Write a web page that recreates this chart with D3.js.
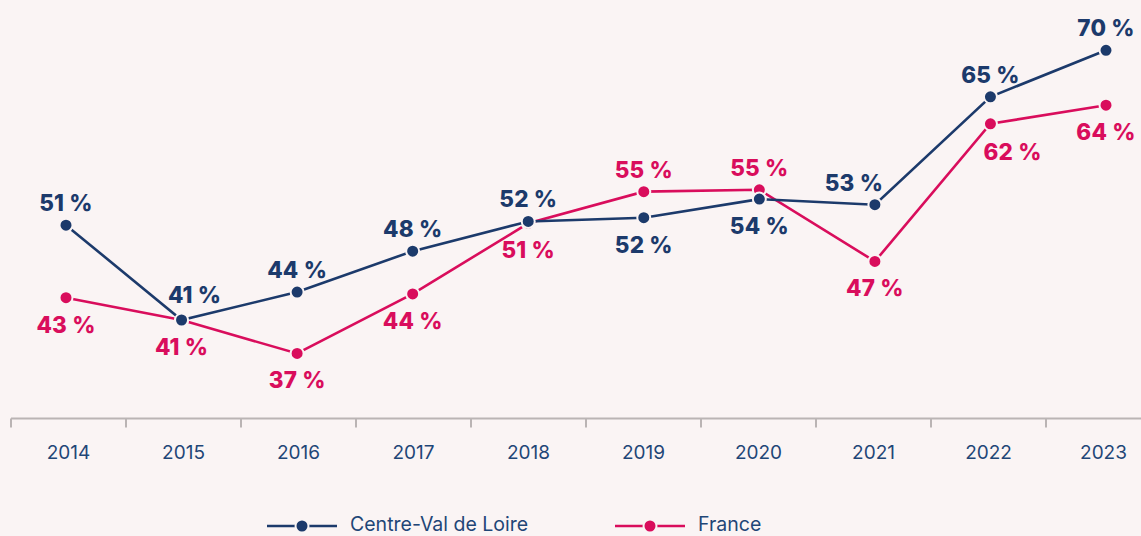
<!DOCTYPE html>
<html>
<head>
<meta charset="utf-8">
<script src="https://cdn.jsdelivr.net/npm/d3@7"></script>
<style>
  html, body { margin: 0; padding: 0; background: #faf4f4; }
  svg { display: block; }
  .axis path, .axis line { stroke: #bab4b4; stroke-width: 2; }
  .axis text { font-family: Inter, sans-serif; font-size: 19px; fill: #1f4677; }
  .lbl { font-family: Inter, sans-serif; font-weight: 800; font-size: 22.5px; letter-spacing: 0.2px; }
  .legend text { font-family: Inter, sans-serif; font-size: 19.5px; fill: #1f4677; }
</style>
</head>
<body>
<div id="chart"></div>
<script>

var years = ['2014', '2015', '2016', '2017', '2018', '2019', '2020', '2021', '2022', '2023'];
var centreValues = [51.2, 41.0, 44.0, 48.4, 51.6, 52.0, 54.0, 53.4, 65.0, 70.0];
var franceValues = [43.4, 41.0, 37.4, 43.8, 51.4, 54.8, 55.0, 47.3, 62.1, 64.1];
// where the value label sits: 1 above the point, -1 below
var centreLabelSide = [1, 1, 1, 1, 1, -1, -1, 1, 1, 1];
var franceLabelSide = [-1, -1, -1, -1, -1, 1, 1, -1, -1, -1];
var seriesNames = ['Centre-Val de Loire', 'France'];

var settings = {
  width: 1141,
  height: 536,
  navy: '#1c3a6b',
  pink: '#d90d5c',
  bg: '#faf4f4',
  // a few labels are pushed sideways, off the lines
  nudges: [
    { series: 1, year: '2015', dx: 13, dy: -3 },
    { series: 1, year: '2021', dx: -21, dy: 0 },
    { series: 0, year: '2022', dx: 22, dy: 1 }
  ]
};

var svg = d3.select('#chart').append('svg')
  .attr('width', settings.width)
  .attr('height', settings.height);

var scaleBand = d3.scaleBand()
  .domain( years )
  .range([ 11, 1161 ]);

var scaleX = d3.scalePoint()
  .domain( years )
  .range([ 66, 1106 ]);

var scaleY = d3.scaleLinear()
  .domain([ 30, 72 ])
  .range([ 422.3, 31.7 ]);

var axisX = d3.axisBottom( scaleBand )
  .tickSize( 9 )
  .tickPadding( 18 )
  .tickSizeOuter( 0 );

var groupX = svg.append('g')
  .classed('axis', true)
  .attr('transform', 'translate(0,418.5)')
  .call( axisX );

groupX.select('.domain').attr('d', 'M11,0H1141');
groupX.selectAll('.tick line')
  .attr('transform', 'translate(' + ( -scaleBand.bandwidth() / 2 ) + ',0)');

var line = d3.line()
  .x(function( d ) { return scaleX( d.year ); })
  .y(function( d ) { return scaleY( d.val ); });

function series( values, sides, color, idx ) {
  return years.map(function( y, i ) {
    return { year: y, val: values[i], side: sides[i], color: color, s: idx };
  });
}

var allSeries = [
  series( franceValues, franceLabelSide, settings.pink, 0 ),
  series( centreValues, centreLabelSide, settings.navy, 1 )
];

allSeries.forEach(function( data ) {
  var g = svg.append('g');
  var color = data[0].color;

  g.append('path')
    .datum( data )
    .attr('d', line )
    .attr('fill', 'none')
    .attr('stroke', color )
    .attr('stroke-width', 2.6);

  g.selectAll('circle')
    .data( data )
    .enter()
    .append('circle')
    .attr('cx', function( d ) { return scaleX( d.year ); })
    .attr('cy', function( d ) { return scaleY( d.val ); })
    .attr('r', 6.5)
    .attr('fill', color )
    .attr('stroke', settings.bg )
    .attr('stroke-width', 2);
});

function nudgeOf( d ) {
  var n = settings.nudges.filter(function( m ) { return m.series === d.s && m.year === d.year; })[0];
  return n || { dx: 0, dy: 0 };
}

allSeries.forEach(function( data ) {
  svg.append('g').selectAll('text')
    .data( data )
    .enter()
    .append('text')
    .classed('lbl', true)
    .attr('x', function( d ) { return scaleX( d.year ) + nudgeOf( d ).dx; })
    .attr('y', function( d ) {
      return scaleY( d.val ) + ( d.side > 0 ? -14 : 35 ) + nudgeOf( d ).dy;
    })
    .attr('text-anchor', 'middle')
    .attr('fill', function( d ) { return d.color; })
    .text(function( d ) { return Math.round( d.val ) + ' %'; });
});

// legend
var legend = svg.append('g').classed('legend', true);
var legendItems = [
  { name: seriesNames[0], color: settings.navy, x: 267 },
  { name: seriesNames[1], color: settings.pink, x: 615 }
];

var item = legend.selectAll('g')
  .data( legendItems )
  .enter()
  .append('g')
  .attr('transform', function( d ) { return 'translate(' + d.x + ',526)'; });

item.append('line')
  .attr('x1', 0).attr('x2', 70)
  .attr('stroke', function( d ) { return d.color; })
  .attr('stroke-width', 2.6);

item.append('circle')
  .attr('cx', 35)
  .attr('r', 6.5)
  .attr('fill', function( d ) { return d.color; })
  .attr('stroke', settings.bg)
  .attr('stroke-width', 2);

item.append('text')
  .attr('x', 83)
  .attr('y', 5)
  .text(function( d ) { return d.name; });

</script>
</body>
</html>
